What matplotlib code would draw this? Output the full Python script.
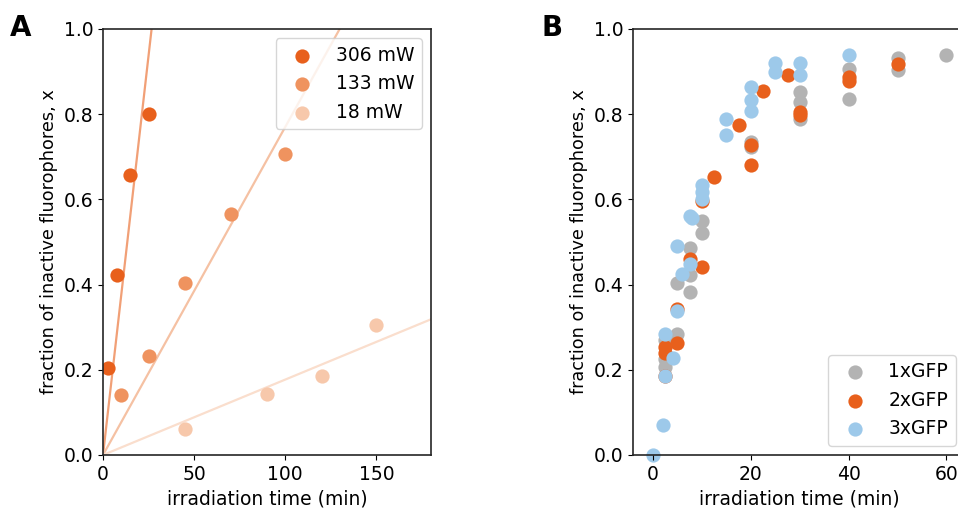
import numpy as np
import matplotlib.pyplot as plt

# panel A: linear photobleaching at three powers
t306 = [2.5, 7.5, 15, 25]
x306 = [0.205, 0.422, 0.657, 0.80]
t133 = [10, 25, 45, 70, 100]
x133 = [0.14, 0.233, 0.403, 0.566, 0.706]
t18 = [45, 90, 120, 150]
x18 = [0.062, 0.144, 0.185, 0.306]
slopes = [0.0375, 0.0077, 0.00177]  # fitted lines through origin
labelsA = ["306 mW", "133 mW", "18 mW"]

# panel B: 1x/2x/3x GFP
t1 = [2.5, 2.5, 2.5, 5, 5, 7.5, 7.5, 7.5, 10, 10, 20, 20, 30, 30, 30,
      40, 40, 50, 50, 60]
x1 = [0.207, 0.225, 0.27, 0.284, 0.403, 0.382, 0.423, 0.485, 0.52, 0.55,
      0.735, 0.722, 0.853, 0.829, 0.788, 0.907, 0.836, 0.931, 0.904, 0.939]
t2 = [2.5, 2.5, 2.5, 5, 5, 7.5, 10, 10, 12.5, 17.5, 20, 20, 22.5, 27.5,
      30, 30, 40, 40, 50]
x2 = [0.185, 0.239, 0.254, 0.264, 0.343, 0.46, 0.442, 0.597, 0.653, 0.775,
      0.728, 0.681, 0.855, 0.892, 0.806, 0.799, 0.888, 0.879, 0.918]
t3 = [0, 2, 2.5, 2.5, 4, 5, 5, 6, 7.5, 7.5, 8, 10, 10, 10, 15, 15, 20, 20,
      20, 25, 25, 30, 30, 40]
x3 = [0.0, 0.07, 0.186, 0.284, 0.228, 0.337, 0.49, 0.424, 0.448, 0.562,
      0.557, 0.60, 0.618, 0.633, 0.752, 0.788, 0.808, 0.833, 0.865, 0.898,
      0.921, 0.892, 0.921, 0.939]
labelsB = ["1xGFP", "2xGFP", "3xGFP"]

plt.rcParams['font.size'] = 13.5
plt.rcParams['axes.linewidth'] = 1.2
plt.rcParams['axes.edgecolor'] = '#262626'

fig = plt.figure(figsize=(9.58, 5.15), dpi=100)
axA = fig.add_axes([103/958, 1-455/515, 328/958, 426/515])
axB = fig.add_axes([633/958, 1-455/515, 332/958, 426/515])

mcol = ['#e8601c', '#ef935f', '#f7c8ab']
lcol = ['#f1a077', '#f5c1a3', '#fadecd']
tt = np.array([0, 180])
for tv, xv, k, mc, lc, lab in zip([t306, t133, t18], [x306, x133, x18],
                                   slopes, mcol, lcol, labelsA):
    axA.plot(tt, k * tt, color=lc, lw=1.6, zorder=1)
    axA.scatter(tv, xv, s=105, color=mc, label=lab, zorder=2, linewidths=0)
axA.set_xlim(0, 180)
axA.set_ylim(0, 1)
axA.set_xticks([0, 50, 100, 150])
axA.set_xlabel("irradiation time (min)")
axA.set_ylabel("fraction of inactive fluorophores, x", fontsize=12.7)
axA.legend(loc='upper right')

bcol = ['#b3b3b3', '#e8601c', '#9dc9ea']
for tv, xv, c, lab in zip([t1, t2, t3], [x1, x2, x3], bcol, labelsB):
    axB.scatter(tv, xv, s=105, color=c, label=lab, linewidths=0, clip_on=False)
axB.set_xlim(-4.1, 63.8)
axB.set_ylim(0, 1)
axB.set_xticks([0, 20, 40, 60])
axB.set_xlabel("irradiation time (min)")
axB.set_ylabel("fraction of inactive fluorophores, x", fontsize=12.7)
axB.legend(loc='lower right')

fig.text(10/958, 1-14/515, "A", fontsize=20, fontweight='bold', va='top')
fig.text(541/958, 1-14/515, "B", fontsize=20, fontweight='bold', va='top')

fig.savefig("out.png", dpi=100)
